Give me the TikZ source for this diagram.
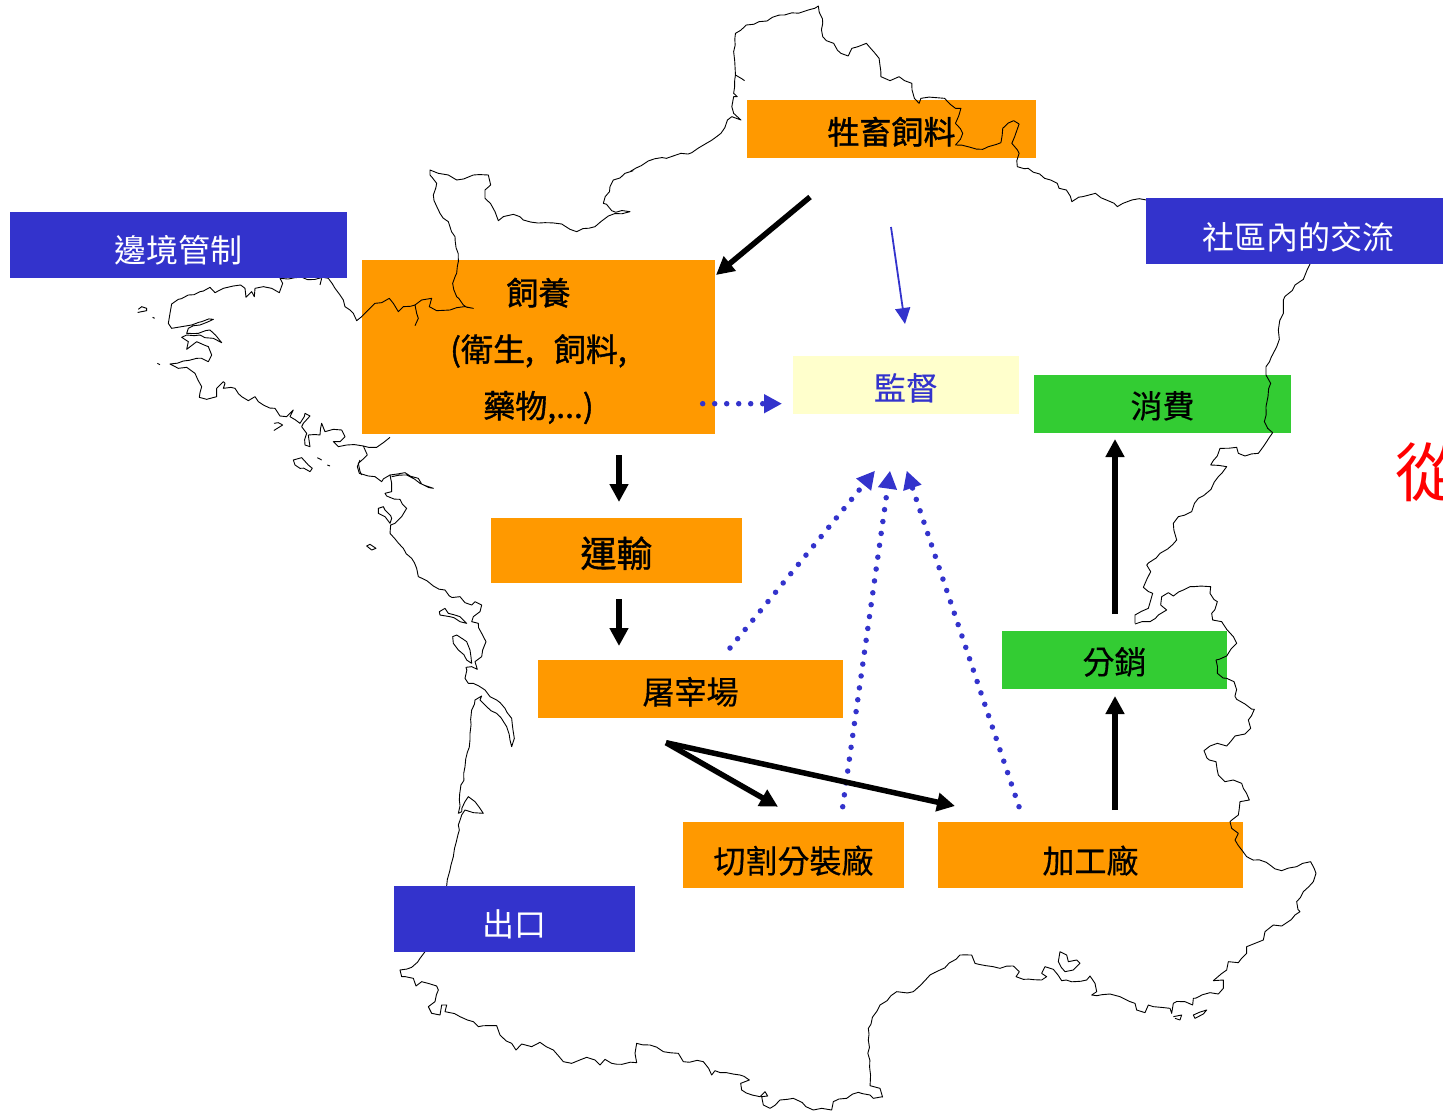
\documentclass[tikz,border=0pt]{standalone}
\usepackage{fontspec}
\setmainfont{Noto Sans CJK TC}
\newfontfamily\midfont[FakeBold=0.5]{Noto Sans CJK TC}
\newfontfamily\heavyfont[FakeBold=1.2]{Noto Sans CJK TC}
\usetikzlibrary{arrows.meta,decorations.pathmorphing}
\definecolor{boxorange}{HTML}{FF9900}
\definecolor{boxblue}{HTML}{3333CC}
\definecolor{boxgreen}{HTML}{33CC33}
\definecolor{boxcream}{HTML}{FFFFCC}
\tikzset{
  stage box/.style={fill=#1, draw=none, inner sep=0pt, text=black, font=\fontsize{32}{40}\selectfont\midfont},
  control box/.style={fill=boxblue, draw=none, inner sep=0pt, text=white, font=\fontsize{32}{40}\selectfont},
  map line/.style={draw=black, line width=0.9pt, line join=round, decorate,
     decoration={random steps, segment length=7pt, amplitude=1.4pt}},
  flow arrow/.style={draw=black, line width=5.5pt, -{Triangle[length=18pt,width=18pt]}},
  watch arrow/.style={draw=boxblue, line width=5.5pt, line cap=round, dash pattern=on 0pt off 12pt,
     -{Triangle[length=18pt,width=18pt]}},
  thin arrow/.style={draw=boxblue, line width=1.8pt, -{Triangle[length=16pt,width=15pt]}}
}
% #1 name, #2 style, #3 #4 corners left top, #5 #6 right bottom, #7 text height, #8 text
\def\StageNode#1#2#3#4#5#6#7#8{%
  \pgfmathsetmacro\boxw{#5-#3}
  \pgfmathsetmacro\boxh{#6-#4}
  \node[#2, minimum width=\boxw pt, minimum height=\boxh pt, text height=#7pt, text depth=0pt]
     (#1) at ({(#3+#5)/2},{(#4+#6)/2}) {#8};
}
% #1 #2 origin, #3 x factor, #4 points
\def\MapPart#1#2#3#4{\draw[map line, shift={(#1,#2)}, xscale=1/#3, yscale=1/3] #4;}

\begin{document}
\begin{tikzpicture}[x=1pt,y=-1pt]
\useasboundingbox (0,0) rectangle (1443,1113);
\clip (0,0) rectangle (1443,1113);
\pgfmathsetseed{7}

% orange and green boxes lie under the map
\StageNode{feed}{stage box=boxorange,font=\fontsize{32}{40}\selectfont\heavyfont}{747}{100}{1036}{158}{30}{牲畜飼料}
\node[stage box=boxorange, minimum width=353pt, minimum height=174pt, align=center,
   font=\fontsize{32}{56.5}\selectfont\heavyfont] (rearing) at (538.5,347)
   {\rule{0pt}{35pt}飼養\\(衛生,\hspace{20pt}飼料,\\藥物,...)};
\StageNode{transport}{stage box=boxorange,font=\fontsize{36}{40}\selectfont\heavyfont}{491}{518}{742}{583}{33}{運輸}
\StageNode{slaughter}{stage box=boxorange}{538}{660}{843}{718}{30}{屠宰場}
\StageNode{cutting}{stage box=boxorange}{683}{822}{904}{888}{36}{切割分裝廠}
\StageNode{process}{stage box=boxorange}{938}{822}{1243}{888}{36}{加工廠}
\StageNode{distrib}{stage box=boxgreen}{1002}{631}{1227}{689}{28}{分銷}
\StageNode{consume}{stage box=boxgreen}{1034}{375}{1291}{433}{28}{消費}

% map outline
\MapPart{120}{160}{3}{(625,355) -- (645,385) -- (660,405) -- (670,420) -- (675,440) -- (690,450) -- (700,460) -- (710,482) -- (725,470) -- (745,450) -- (765,430) -- (785,428) -- (808,415) -- (820,430) -- (835,455) -- (850,440) -- (885,435) -- (905,420) -- (935,415) -- (928,440) -- (950,452) -- (990,450) -- (1010,443) -- (1060,445) -- (1030,435) -- (1010,410) -- (998,370) -- (1010,340) -- (1015,305) -- (1005,230) -- (985,185) -- (960,160) -- (940,105) -- (950,70) -- (930,45) -- (930,30) -- (955,40) -- (985,45) -- (1010,60) -- (1060,45) -- (1105,45) -- (1112,75) -- (1095,90) -- (1095,115) -- (1125,155) -- (1135,182) -- (1150,170)}
\MapPart{120}{160}{3}{(885,435) -- (890,460) -- (895,475) -- (885,497)}
\MapPart{480}{170}{3}{(69,140) -- (100,133) -- (130,150) -- (195,158) -- (245,162) -- (270,178) -- (290,185) -- (345,170) -- (385,138) -- (450,125) -- (395,122) -- (370,100) -- (390,50) -- (400,30) -- (460,2)}
\MapPart{590}{0}{2.75}{(110,515) -- (160,483) -- (210,475) -- (250,460) -- (280,458) -- (320,430) -- (360,400) -- (378,360) -- (390,350) -- (415,360) -- (395,340) -- (390,320) -- (395,290) -- (405,290) -- (395,280) -- (400,225) -- (395,155) -- (400,100) -- (430,75) -- (465,65) -- (535,45) -- (600,30) -- (628,18) -- (640,70) -- (640,110) -- (650,122) -- (670,130) -- (690,160) -- (710,168) -- (720,145) -- (760,130) -- (780,155) -- (795,175) -- (800,230) -- (825,242) -- (850,230) -- (865,242) -- (885,250) -- (892,295) -- (905,310) -- (910,295) -- (975,295) -- (1005,325) -- (1020,325) -- (1005,370) -- (1025,400) -- (1005,435) -- (1080,448) -- (1130,428) -- (1135,385) -- (1165,362) -- (1180,372) -- (1160,430) -- (1180,460) -- (1175,500) -- (1205,505) -- (1250,535) -- (1285,550) -- (1290,565) -- (1310,570) -- (1325,605) -- (1355,590) -- (1390,580) -- (1420,600) -- (1450,620) -- (1490,600) -- (1530,600)}
\MapPart{590}{0}{2.75}{(400,225) -- (425,242)}
\MapPart{1120}{250}{3}{(570,42) -- (550,88) -- (525,105) -- (490,150) -- (490,190) -- (475,240) -- (478,268) -- (465,300) -- (438,350) -- (438,375) -- (452,400) -- (438,470) -- (433,515) -- (458,548) -- (440,575) -- (415,610) -- (375,618) -- (355,610) -- (350,592) -- (300,595) -- (272,645) -- (320,650) -- (295,680) -- (265,725) -- (235,745) -- (215,785) -- (175,800) -- (160,820) -- (170,870) -- (120,910) -- (80,945) -- (92,965) -- (70,1012) -- (98,1030) -- (85,1075) -- (45,1095) -- (45,1120)}
\MapPart{1130}{580}{3}{(15,132) -- (60,125) -- (85,105) -- (110,90) -- (92,75) -- (95,50) -- (115,38) -- (130,48) -- (160,30) -- (190,20) -- (242,20) -- (240,40) -- (262,65) -- (245,100) -- (248,120) -- (275,125) -- (290,148) -- (310,170) -- (320,190) -- (290,228) -- (258,240) -- (262,280) -- (290,295) -- (312,305) -- (320,358) -- (345,372) -- (373,388) -- (355,420) -- (362,445) -- (345,462) -- (315,468) -- (290,498) -- (262,490) -- (240,498) -- (222,512) -- (238,540) -- (258,545) -- (265,585) -- (285,605) -- (310,600) -- (335,610) -- (340,625) -- (358,660) -- (330,665) -- (325,705) -- (300,725) -- (305,745) -- (325,760) -- (315,780)}
\MapPart{860}{840}{3}{(1125,0) -- (1160,50) -- (1230,75) -- (1265,92) -- (1310,80) -- (1352,65) -- (1368,100) -- (1360,125) -- (1330,155) -- (1310,185) -- (1320,215) -- (1305,225) -- (1265,258) -- (1240,255) -- (1215,275) -- (1210,300) -- (1185,310) -- (1160,320) -- (1160,340) -- (1135,368) -- (1105,365) -- (1100,390) -- (1060,422) -- (1090,420) -- (1090,445) -- (1075,462) -- (1050,458) -- (1000,475) -- (998,495) -- (975,485) -- (940,490) -- (935,520) -- (930,505) -- (880,500) -- (865,495) -- (855,518) -- (830,510) -- (825,490) -- (780,470) -- (750,462) -- (695,465) -- (710,455) -- (705,430) -- (690,408) -- (680,420) -- (605,422) -- (580,388) -- (555,380) -- (545,400) -- (560,410) -- (545,420) -- (490,418) -- (468,410) -- (478,395) -- (460,378) -- (420,385) -- (345,370) -- (335,345) -- (300,345) -- (240,390) -- (210,405) -- (160,455) -- (110,455) -- (60,495) -- (25,565) -- (25,600) -- (30,737) -- (60,745) -- (68,772)}
\MapPart{860}{840}{3}{(600,335) -- (595,365) -- (615,395) -- (640,390) -- (660,370) -- (650,360) -- (625,365) -- (620,345) -- cycle}
\MapPart{860}{840}{3}{(940,530) -- (965,525) -- (960,540) -- (945,535)}
\MapPart{860}{840}{3}{(1000,525) -- (1040,510) -- (1030,522) -- (1005,535) -- cycle}
\MapPart{390}{880}{3}{(1478,650) -- (1450,655) -- (1440,645) -- (1405,637) -- (1370,655) -- (1330,665) -- (1325,690) -- (1295,685) -- (1270,690) -- (1210,655) -- (1170,660) -- (1140,685) -- (1120,675) -- (1115,650) -- (1133,648) -- (1125,635) -- (1110,650) -- (1055,630) -- (1052,610) -- (1078,600) -- (1050,585) -- (975,572) -- (965,585) -- (940,545) -- (880,545) -- (865,520) -- (820,515) -- (780,495) -- (740,490) -- (735,520) -- (740,548) -- (665,550) -- (645,538) -- (630,555) -- (615,540) -- (590,532) -- (545,550) -- (520,545) -- (490,510) -- (450,487) -- (425,500) -- (395,492) -- (378,510) -- (365,490) -- (330,465) -- (320,437) -- (265,440) -- (250,425) -- (210,410) -- (165,395) -- (170,375) -- (155,375) -- (150,405) -- (125,400) -- (115,380) -- (135,365) -- (145,330) -- (140,318) -- (95,305) -- (78,318) -- (70,295) -- (35,290) -- (30,270) -- (65,262) -- (90,235) -- (105,215) -- (165,18)}
\MapPart{350}{460}{3}{(290,1278) -- (310,1190) -- (328,1110) -- (325,1095) -- (335,1065) -- (345,1050) -- (370,1058) -- (400,1060) -- (390,1045) -- (375,1025) -- (355,1010) -- (345,1025) -- (335,1055) -- (325,1060) -- (328,1020) -- (345,920) -- (360,840) -- (365,750) -- (375,720) -- (395,708) -- (390,720) -- (410,740) -- (440,760) -- (470,800) -- (480,840) -- (485,860) -- (493,835) -- (485,775) -- (465,745) -- (440,720) -- (420,710) -- (405,690) -- (370,670) -- (355,670) -- (345,655) -- (348,622) -- (365,620) -- (382,628) -- (375,605) -- (395,590) -- (398,570) -- (408,545) -- (395,520) -- (385,490) -- (365,485) -- (370,470) -- (390,455) -- (395,435) -- (375,425) -- (365,435) -- (345,428) -- (330,410) -- (298,408) -- (285,390) -- (250,378) -- (205,350) -- (200,325) -- (185,295) -- (160,265) -- (120,220) -- (122,195) -- (135,190) -- (155,170) -- (170,145) -- (150,118) -- (110,108) -- (105,100) -- (125,95) -- (125,70) -- (120,45) -- (165,38) -- (205,55) -- (215,72) -- (250,85) -- (210,70) -- (170,45) -- (125,50)}
\MapPart{350}{460}{3}{(120,45) -- (95,65) -- (75,50) -- (55,48) -- (28,40) -- (22,20) -- (30,0)}
\MapPart{350}{460}{3}{(85,145) -- (100,140) -- (105,150) -- (125,175) -- (120,190) -- (105,170) -- (85,160) -- cycle}
\MapPart{350}{460}{3}{(50,258) -- (60,253) -- (78,265) -- (65,270) -- cycle}
\MapPart{350}{460}{3}{(268,455) -- (285,445) -- (295,460) -- (330,470) -- (350,490) -- (330,485) -- (300,470) -- (270,465) -- cycle}
\MapPart{350}{460}{3}{(308,530) -- (320,525) -- (350,545) -- (360,570) -- (365,610) -- (350,600) -- (325,570) -- (310,550) -- cycle}
\MapPart{120}{160}{3}{(480,355) -- (488,370) -- (478,398) -- (455,385) -- (430,380) -- (405,385) -- (403,410) -- (395,395) -- (378,412) -- (375,385) -- (362,375) -- (340,378) -- (310,385) -- (285,398) -- (270,382) -- (240,395) -- (205,405) -- (175,418) -- (155,432) -- (150,460) -- (145,490) -- (155,505) -- (185,500) -- (215,495) -- (245,485) -- (280,478) -- (240,495) -- (205,505) -- (200,520) -- (235,520) -- (270,510) -- (305,548) -- (280,535) -- (240,525) -- (200,525) -- (185,532) -- (205,545) -- (200,568) -- (230,545) -- (265,560) -- (275,585) -- (265,605) -- (230,595) -- (190,603) -- (150,612) -- (175,625) -- (200,622) -- (225,640) -- (245,680) -- (238,712) -- (260,718) -- (290,710) -- (290,685) -- (310,665) -- (315,670) -- (310,685) -- (345,685) -- (365,710) -- (385,722) -- (405,710) -- (415,725) -- (430,735) -- (465,745) -- (480,768) -- (500,770) -- (520,750) -- (510,770) -- (540,790) -- (555,760) -- (570,768) -- (550,790) -- (545,800) -- (560,820) -- (555,855) -- (570,860) -- (565,825) -- (600,825) -- (605,790) -- (615,815) -- (640,808) -- (665,810) -- (675,830) -- (660,845) -- (640,845) -- (655,860) -- (680,855) -- (730,858) -- (770,862) -- (790,848) -- (810,832)}
\MapPart{120}{160}{3}{(730,858) -- (742,885) -- (715,910) -- (725,945)}
\MapPart{120}{160}{3}{(600,375) -- (605,355)}
\MapPart{120}{160}{3}{(480,355) -- (625,355)}
\MapPart{120}{160}{3}{(55,448) -- (65,440) -- (80,445) -- (80,452) -- (65,455) -- cycle}
\MapPart{120}{160}{3}{(462,790) -- (475,788) -- (488,795) -- (480,800) -- (465,795) -- cycle}
\MapPart{120}{160}{3}{(520,900) -- (545,893) -- (565,915) -- (577,925) -- (570,935) -- (540,925) -- (525,915) -- cycle}
\MapPart{120}{160}{3}{(98,472) -- (104,475)}
\MapPart{120}{160}{3}{(112,610) -- (120,614)}
\MapPart{120}{160}{3}{(592,893) -- (605,900)}
\MapPart{120}{160}{3}{(622,915) -- (630,918)}

% blue boxes cover the map
\StageNode{border}{control box}{10}{212}{347}{278}{34}{邊境管制}
\StageNode{community}{control box}{1146}{198}{1443}{264}{36}{\hspace{8pt}社區內的交流}
\StageNode{export}{control box}{394}{886}{635}{952}{34}{出口}
\StageNode{inspect}{stage box=boxcream,text=boxblue}{793}{356}{1019}{414}{30}{監督}
\node[anchor=west, inner sep=0pt, text=red, font=\fontsize{64}{70}\selectfont] (from) at (1395,472) {從};

\coordinate (feedTail) at (810,197);
\coordinate (rearingTip) at (716,275);
\coordinate (inspectTail) at (891,227);
\coordinate (inspectTip) at (905,324);
\coordinate (rearingDot) at (702.7,403.7);
\coordinate (rearingDotTip) at (782,403.7);
\coordinate (slaughterDot) at (730,648);
\coordinate (slaughterDotTip) at (875,470.7);
\coordinate (cuttingDot) at (842.7,806.7);
\coordinate (cuttingDotTip) at (890,470.7);
\coordinate (processDot) at (1019,806.7);
\coordinate (processDotTip) at (906.7,470.7);
\coordinate (rearingOut) at (619,455);
\coordinate (transportIn) at (619,502);
\coordinate (transportOut) at (619,599);
\coordinate (slaughterIn) at (619,646);
\coordinate (slaughterOut) at (666,742.7);
\coordinate (cuttingIn) at (778,806.7);
\coordinate (processIn) at (955,806);
\coordinate (processOut) at (1115,810);
\coordinate (distribIn) at (1115,696);
\coordinate (distribOut) at (1115,614);
\coordinate (consumeIn) at (1115,439);

\draw[thin arrow] (inspectTail) -- (inspectTip);
\draw[watch arrow] (rearingDot) -- (rearingDotTip);
\draw[watch arrow] (slaughterDot) -- (slaughterDotTip);
\draw[watch arrow] (cuttingDot) -- (cuttingDotTip);
\draw[watch arrow] (processDot) -- (processDotTip);
\draw[flow arrow] (feedTail) -- (rearingTip);
\draw[flow arrow] (rearingOut) -- (transportIn);
\draw[flow arrow] (transportOut) -- (slaughterIn);
\draw[flow arrow] (slaughterOut) -- (cuttingIn);
\draw[flow arrow] (slaughterOut) -- (processIn);
\draw[flow arrow] (processOut) -- (distribIn);
\draw[flow arrow] (distribOut) -- (consumeIn);
\end{tikzpicture}
\end{document}
